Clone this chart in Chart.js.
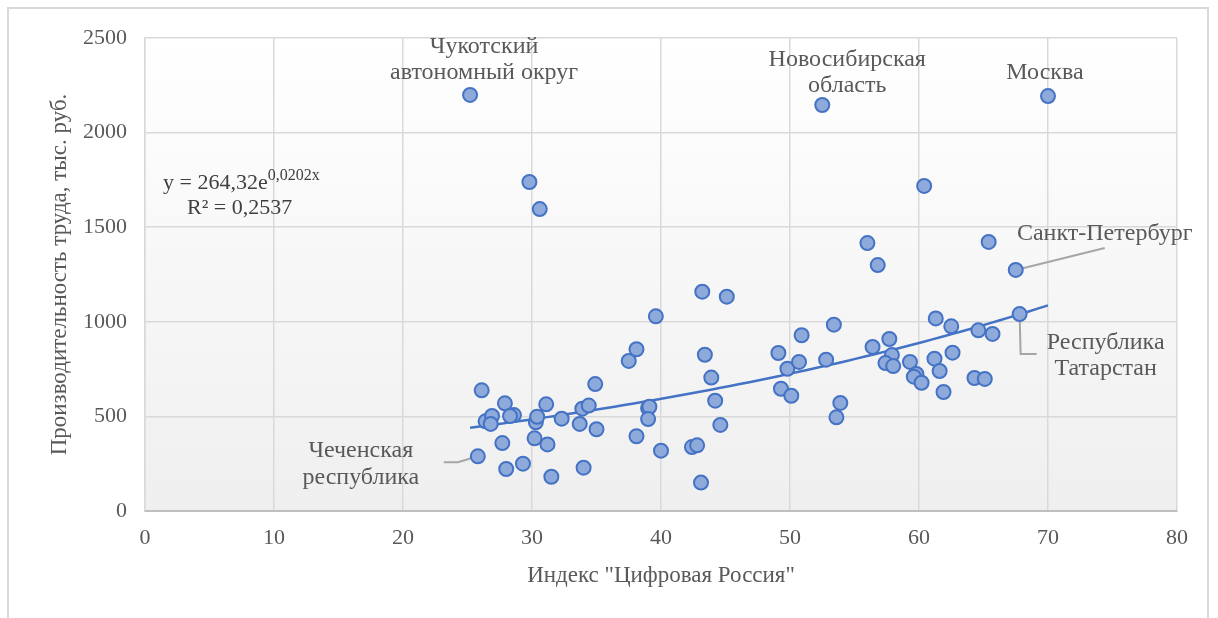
<!DOCTYPE html>
<html lang="ru">
<head>
<meta charset="utf-8">
<title>Производительность труда и индекс "Цифровая Россия"</title>
<script src="https://cdn.jsdelivr.net/npm/chart.js@4/dist/chart.umd.min.js"></script>
<style>
    html, body { margin: 0; padding: 0; background: #fff; }
    #chart { display: block; }
</style>
</head>
<body>
<canvas id="chart" width="1218" height="618"></canvas>
<script>
// Индекс "Цифровая Россия" по регионам
const digitalIndex = [
    25.2, 52.5, 70.0, 29.8, 30.6, 60.4, 56.0, 56.8, 65.4, 67.5, 67.8,
    26.1, 27.9, 26.4, 26.9, 26.8, 28.6, 28.3, 27.7, 25.8, 28.0, 29.3,
    30.2, 30.3, 30.4, 31.1, 31.2, 31.5, 32.3, 33.7, 33.9, 34.4, 34.9,
    35.0, 34.0, 37.5, 38.1, 38.1, 39.6, 40.0, 39.0, 39.1, 39.0, 42.4,
    42.8, 43.1, 43.2, 45.1, 43.4, 43.9, 44.2, 44.6,
    49.1, 49.8, 50.7, 50.9, 49.3, 50.1, 53.4, 52.8, 53.9, 53.6, 56.4,
    57.7, 57.9, 57.4, 58.0, 59.3, 59.8, 59.6, 60.2, 61.3, 62.5, 61.2,
    61.6, 62.6, 61.9, 64.6, 65.7, 64.3, 65.1
];

// Производительность труда, тыс. руб.
const productivity = [
    2199, 2146, 2193, 1739, 1596, 1718, 1416, 1300, 1422, 1274, 1041,
    638, 569, 474, 502, 460, 507, 502, 359, 289, 222, 250,
    384, 469, 498, 564, 352, 181, 488, 460, 541, 557, 671,
    432, 229, 793, 855, 395, 1029, 319, 543, 551, 486, 338,
    347, 150, 1159, 1133, 826, 705, 583, 455,
    835, 752, 788, 929, 646, 609, 985, 800, 571, 495, 867,
    909, 824, 782, 766, 788, 724, 710, 678, 1018, 976, 805,
    740, 837, 629, 955, 936, 703, 698
];

// подписанные регионы: индекс точки и строки подписи
const regionNames = [
    { point: 0, lines: ['Чукотский', 'автономный округ'] },
    { point: 1, lines: ['Новосибирская', 'область'] },
    { point: 2, lines: ['Москва'] },
    { point: 9, lines: ['Санкт-Петербург'] },
    { point: 10, lines: ['Республика', 'Татарстан'] },
    { point: 19, lines: ['Чеченская', 'республика'] }
];

// экспоненциальный тренд (коэффициенты из уравнения на графике)
const trendA = 264.32;
const trendB = 0.0202;
const equationText = 'y = 264,32e';
const equationPower = '0,0202x';
const r2Text = 'R² = 0,2537';

const xTitle = 'Индекс "Цифровая Россия"';
const yTitle = 'Производительность труда, тыс. руб.';

const serif = "'Liberation Serif', 'Times New Roman', serif";
const textGrey = '#595959';

const points = digitalIndex.map((x, i) => ({ x: x, y: productivity[i] }));

const xMin = Math.min(...digitalIndex);
const xMax = Math.max(...digitalIndex);
const trendPoints = [];
for (let k = 0; k <= 60; k++) {
    const x = xMin + (xMax - xMin) * k / 60;
    trendPoints.push({ x: x, y: trendA * Math.exp(trendB * x) });
}

// where each label goes relative to its point, and the leader lines
const labelStyle = {
    0: { dx: 14, dy: [-48, -22] },
    1: { dx: 25, dy: [-45, -19] },
    2: { dx: -3, dy: [-23] },
    9: { dx: 89, dy: [-36], leader: [[89, -22]] },
    10: { dx: 86, dy: [29, 55], leader: [[1, 40], [17, 40]] },
    19: { dx: -117, dy: [-6, 21], leader: [[-20, 6], [-34, 6]] }
};

const frameAndBackground = {
    id: 'frameAndBackground',
    beforeDraw(chart) {
        const { ctx, chartArea } = chart;
        ctx.save();
        ctx.fillStyle = '#ffffff';
        ctx.fillRect(0, 0, chart.width, chart.height);
        ctx.strokeStyle = '#d9d9d9';
        ctx.lineWidth = 2;
        ctx.strokeRect(8, 8, 1200, 640);
        const g = ctx.createLinearGradient(0, chartArea.top, 0, chartArea.bottom);
        g.addColorStop(0, '#ffffff');
        g.addColorStop(1, '#efefef');
        ctx.fillStyle = g;
        ctx.fillRect(chartArea.left, chartArea.top, chartArea.right - chartArea.left, chartArea.bottom - chartArea.top);
        ctx.restore();
    }
};

const regionLabels = {
    id: 'regionLabels',
    beforeDatasetsDraw(chart) {
        const { ctx } = chart;
        const xs = chart.scales.x, ys = chart.scales.y;
        ctx.save();
        ctx.strokeStyle = '#a6a6a6';
        ctx.lineWidth = 2;
        regionNames.forEach(r => {
            const st = labelStyle[r.point];
            if (!st.leader) return;
            const px = xs.getPixelForValue(digitalIndex[r.point]);
            const py = ys.getPixelForValue(productivity[r.point]);
            ctx.beginPath();
            ctx.moveTo(px, py);
            st.leader.forEach(p => ctx.lineTo(px + p[0], py + p[1]));
            ctx.stroke();
        });
        ctx.restore();
    },
    afterDatasetsDraw(chart) {
        const { ctx, chartArea } = chart;
        const xs = chart.scales.x, ys = chart.scales.y;
        ctx.save();
        ctx.fillStyle = textGrey;
        ctx.font = '24px ' + serif;
        ctx.textAlign = 'center';
        ctx.textBaseline = 'middle';
        regionNames.forEach(r => {
            const st = labelStyle[r.point];
            const px = xs.getPixelForValue(digitalIndex[r.point]);
            const py = ys.getPixelForValue(productivity[r.point]);
            r.lines.forEach((line, i) => ctx.fillText(line, px + st.dx, py + st.dy[i]));
        });

        // trend equation
        ctx.fillStyle = '#404040';
        ctx.textAlign = 'left';
        ctx.font = '22px ' + serif;
        const ex = chartArea.left + 18, ey = chartArea.top + 145;
        ctx.fillText(equationText, ex, ey);
        const w = ctx.measureText(equationText).width;
        ctx.font = '16px ' + serif;
        ctx.fillText(equationPower, ex + w, ey - 7);
        ctx.font = '22px ' + serif;
        ctx.fillText(r2Text, ex + 24, ey + 25);
        ctx.restore();
    }
};

new Chart(document.getElementById('chart'), {
    type: 'scatter',
    data: {
        datasets: [
            {
                label: 'Регионы',
                data: points,
                pointRadius: 7,
                pointBackgroundColor: '#8eaadb',
                pointBorderColor: '#4472c4',
                pointBorderWidth: 2,
                order: 1
            },
            {
                type: 'line',
                label: 'Экспоненциальная',
                data: trendPoints,
                borderColor: '#4472c4',
                borderWidth: 2.5,
                pointRadius: 0,
                fill: false,
                tension: 0,
                order: 2
            }
        ]
    },
    options: {
        responsive: false,
        animation: false,
        layout: { padding: { left: 8, right: 41, top: 38, bottom: 8 } },
        plugins: {
            legend: { display: false },
            tooltip: { enabled: false }
        },
        scales: {
            x: {
                type: 'linear',
                min: 0,
                max: 80,
                ticks: { stepSize: 10, color: textGrey, padding: 14, font: { family: serif, size: 22 } },
                grid: { color: '#d9d9d9', lineWidth: 1.5, drawTicks: false },
                border: { color: '#bfbfbf', width: 2 },
                title: { display: true, text: xTitle, color: textGrey, padding: { top: 0, bottom: 20 }, font: { family: serif, size: 23 } },
                afterFit(scale) { scale.height = 618 - 511 - 8; }
            },
            y: {
                min: 0,
                max: 2500,
                ticks: {
                    stepSize: 500, color: textGrey, padding: 18, font: { family: serif, size: 22 },
                    callback: v => String(v)
                },
                grid: { color: '#d9d9d9', lineWidth: 1.5, drawTicks: false },
                border: { color: '#d9d9d9', width: 1.5 },
                title: { display: true, text: yTitle, color: textGrey, padding: { top: 38, bottom: 0 }, font: { family: serif, size: 23 } },
                afterFit(scale) { scale.width = 145 - 8; }
            }
        }
    },
    plugins: [frameAndBackground, regionLabels]
});
</script>
</body>
</html>
